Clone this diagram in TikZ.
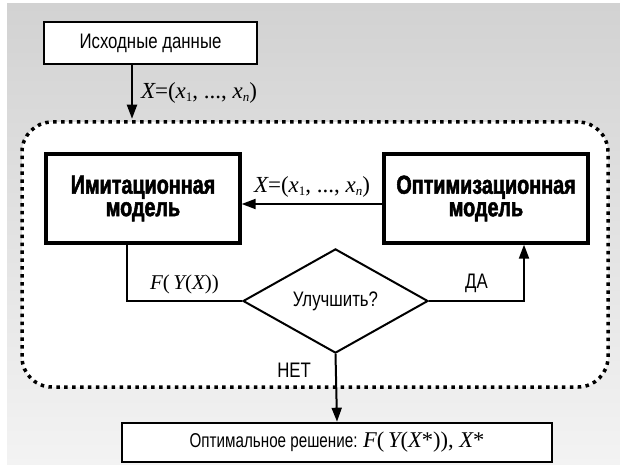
\documentclass[tikz,border=0pt]{standalone}
\usepackage{fontspec}
\setmainfont{Liberation Sans}[FakeStretch=0.8]
\newfontfamily\narrowfont{Liberation Sans}[FakeStretch=0.76]
\newfontfamily\headfont{Liberation Sans}[UprightFont=* Bold, FakeStretch=0.76, FakeBold=2]
\newfontfamily\serifmath{Liberation Serif}
\usetikzlibrary{arrows.meta,shapes.geometric,calc}
\definecolor{bgtop}{HTML}{D2D2D2}
\definecolor{bgbot}{HTML}{F3F3F3}

% italic serif variable and lowered index
\newcommand{\vv}[1]{{\itshape #1}}
\newcommand{\idx}[1]{\raisebox{-0.35ex}{\fontsize{13}{13}\selectfont #1}}
\newcommand{\vecX}{{\serifmath\fontsize{23}{23}\selectfont\vv{X}=(\vv{x}\idx{1}, ..., \vv{x}\idx{\itshape n})}}

\tikzset{
  plainbox/.style={draw, line width=2.6pt, fill=white, inner sep=0pt,
    font=\fontsize{21}{21}\selectfont},
  modelbox/.style={draw, line width=3.3pt, fill=white, inner sep=0pt,
    minimum height=89pt, align=center,
    font=\headfont\fontsize{26}{22.5}\selectfont},
  decision/.style={draw, diamond, line width=2pt, fill=white, inner sep=0pt,
    minimum width=185pt, minimum height=100pt,
    font=\fontsize{21}{21}\selectfont},
  loopframe/.style={draw, fill=white, rounded corners=30pt, line width=3.5pt,
    dash pattern=on 3.5pt off 4.4pt, inner sep=0pt},
  conn/.style={line width=2pt},
  arrowconn/.style={line width=2pt, -{Triangle[length=14pt,width=10pt]}},
  lab/.style={inner sep=0pt, font=\fontsize{21}{21}\selectfont},
  mathlab/.style={inner sep=0pt, font=\serifmath\fontsize{21}{21}\selectfont},
}

\begin{document}
\begin{tikzpicture}[x=1pt, y=-1pt]
  \useasboundingbox (0,0) rectangle (620,465);
  \shade[top color=bgtop, bottom color=bgbot] (7,4) rectangle (620,465);

  % dotted loop region
  \node[loopframe, minimum width=586pt, minimum height=265pt] (frame) at (315,254.5) {};

  % blocks
  \node[plainbox, minimum width=213pt, minimum height=42pt] (in) at (150.5,43) {Исходные данные};
  \node[modelbox, minimum width=194pt] (imit) at (143,198.5) {Имитационная\\модель};
  \node[modelbox, minimum width=204pt] (opt) at (486,198.5) {Оптимизационная\\модель};
  \node[decision] (dec) at (335.5,301) {Улучшить?};
  \node[plainbox, minimum width=430pt, minimum height=39pt] (out) at (337,442.5)
    {{\narrowfont\fontsize{20}{20}\selectfont Оптимальное решение: }{\serifmath\fontsize{22.5}{22.5}\selectfont\vv{F}(\,\vv{Y}(\vv{X}*)),\ \vv{X}*}};

  % connectors
  \draw[arrowconn, shorten >=1.5pt] ([xshift=-18.5pt]in.south) -- ([xshift=-18.5pt]in.south |- frame.north)
    node[midway, right=8pt, inner sep=0pt] {\vecX};
  \draw[arrowconn] ([yshift=-5.5pt]opt.west) -- ([yshift=-5.5pt]imit.east)
    node[midway, above=6pt, inner sep=0pt] {\vecX};
  \draw[conn] ([xshift=-16pt]imit.south) |- (dec.west)
    node[mathlab, pos=0.75, above=6pt] {\vv{F}(\,\vv{Y}(\vv{X}))};
  \draw[arrowconn] (dec.east) -| ([xshift=38pt]opt.south)
    node[lab, pos=0.25, above=7pt] {ДА};
  \draw[arrowconn] (dec.south) -- (out.north)
    node[lab, pos=0.24, left=24pt] {НЕТ};
\end{tikzpicture}
\end{document}
